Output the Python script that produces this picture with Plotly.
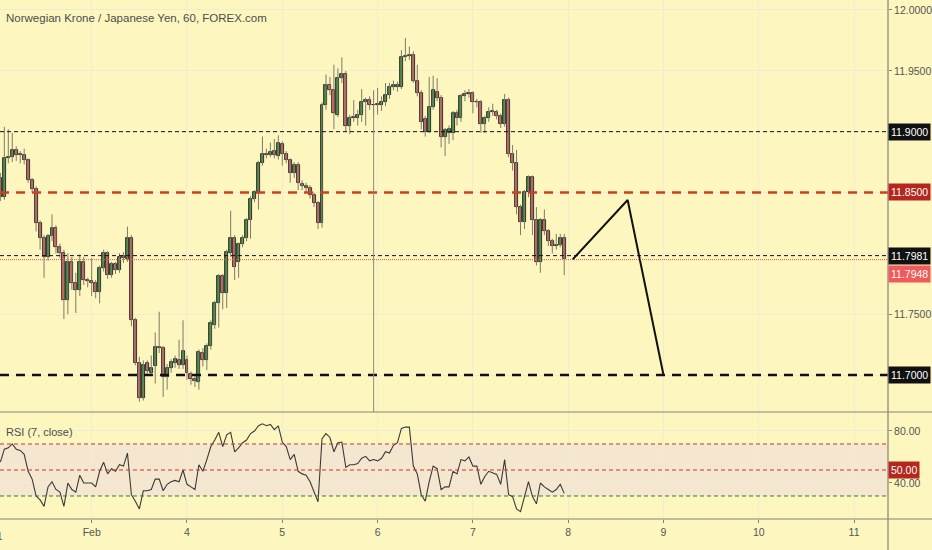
import plotly.graph_objs as go

# Hourly NOKJPY candles (FOREX.com, 60 min)
hours = list(range(1, 144))  # hours since 31 Jan 00:00 (session days, weekend skipped)

opens = [11.862, 11.846, 11.878, 11.879, 11.885, 11.881, 11.881, 11.877, 11.860, 11.853,
         11.825, 11.813, 11.797, 11.814, 11.821, 11.805, 11.800, 11.762, 11.793, 11.776,
         11.770, 11.793, 11.778, 11.777, 11.776, 11.768, 11.788, 11.800, 11.782, 11.791,
         11.786, 11.798, 11.795, 11.813, 11.745, 11.710, 11.681, 11.710, 11.702, 11.707,
         11.723, 11.722, 11.698, 11.706, 11.710, 11.712, 11.708, 11.712, 11.701, 11.697,
         11.694, 11.718, 11.712, 11.724, 11.741, 11.759, 11.781, 11.767, 11.800, 11.813,
         11.793, 11.808, 11.813, 11.827, 11.845, 11.850, 11.874, 11.882, 11.881, 11.884,
         11.880, 11.890, 11.882, 11.877, 11.866, 11.873, 11.857, 11.855, 11.854, 11.848,
         11.841, 11.825, 11.922, 11.938, 11.934, 11.914, 11.944, 11.947, 11.905, 11.912,
         11.911, 11.914, 11.924, 11.926, 11.922, 11.922, 11.922, 11.924, 11.930, 11.937,
         11.937, 11.937, 11.961, 11.962, 11.963, 11.942, 11.932, 11.910, 11.900, 11.920,
         11.933, 11.928, 11.896, 11.899, 11.899, 11.915, 11.911, 11.929, 11.931, 11.932,
         11.924, 11.924, 11.906, 11.911, 11.917, 11.916, 11.913, 11.906, 11.926, 11.882,
         11.874, 11.838, 11.826, 11.850, 11.863, 11.827, 11.793, 11.827, 11.818, 11.810,
         11.806, 11.807, 11.813]
highs = [11.866, 11.904, 11.902, 11.899, 11.888, 11.884, 11.886, 11.878, 11.862, 11.855,
         11.827, 11.815, 11.816, 11.832, 11.823, 11.808, 11.803, 11.800, 11.797, 11.784,
         11.799, 11.797, 11.780, 11.796, 11.778, 11.790, 11.803, 11.802, 11.793, 11.793,
         11.800, 11.801, 11.822, 11.815, 11.747, 11.715, 11.712, 11.712, 11.716, 11.735,
         11.752, 11.724, 11.709, 11.713, 11.716, 11.729, 11.745, 11.716, 11.703, 11.699,
         11.721, 11.722, 11.726, 11.745, 11.761, 11.783, 11.783, 11.803, 11.835, 11.815,
         11.809, 11.815, 11.829, 11.847, 11.852, 11.876, 11.896, 11.886, 11.891, 11.894,
         11.897, 11.892, 11.884, 11.878, 11.875, 11.875, 11.860, 11.858, 11.856, 11.850,
         11.843, 11.924, 11.947, 11.945, 11.955, 11.952, 11.961, 11.950, 11.914, 11.926,
         11.918, 11.935, 11.928, 11.929, 11.934, 11.936, 11.929, 11.940, 11.940, 11.942,
         11.941, 11.967, 11.977, 11.970, 11.966, 11.955, 11.934, 11.913, 11.945, 11.946,
         11.944, 11.930, 11.903, 11.905, 11.917, 11.918, 11.931, 11.934, 11.935, 11.933,
         11.927, 11.926, 11.913, 11.920, 11.923, 11.918, 11.915, 11.931, 11.928, 11.889,
         11.885, 11.840, 11.852, 11.864, 11.864, 11.838, 11.829, 11.836, 11.820, 11.812,
         11.816, 11.816, 11.816]
lows = [11.843, 11.844, 11.874, 11.875, 11.876, 11.874, 11.873, 11.858, 11.850, 11.818,
        11.803, 11.780, 11.794, 11.810, 11.800, 11.796, 11.746, 11.750, 11.770, 11.751,
        11.765, 11.774, 11.772, 11.765, 11.763, 11.759, 11.785, 11.779, 11.780, 11.783,
        11.784, 11.792, 11.793, 11.740, 11.708, 11.678, 11.679, 11.700, 11.700, 11.693,
        11.718, 11.682, 11.688, 11.702, 11.706, 11.705, 11.705, 11.696, 11.692, 11.690,
        11.688, 11.707, 11.704, 11.721, 11.738, 11.739, 11.754, 11.755, 11.797, 11.778,
        11.780, 11.805, 11.810, 11.812, 11.842, 11.836, 11.872, 11.878, 11.879, 11.878,
        11.877, 11.872, 11.874, 11.858, 11.862, 11.852, 11.852, 11.850, 11.845, 11.838,
        11.820, 11.821, 11.918, 11.930, 11.902, 11.912, 11.940, 11.900, 11.898, 11.908,
        11.905, 11.908, 11.905, 11.918, 11.913, 11.914, 11.917, 11.921, 11.927, 11.934,
        11.933, 11.935, 11.958, 11.959, 11.940, 11.929, 11.902, 11.896, 11.899, 11.918,
        11.925, 11.887, 11.880, 11.890, 11.893, 11.905, 11.908, 11.925, 11.928, 11.915,
        11.920, 11.899, 11.899, 11.908, 11.913, 11.910, 11.903, 11.904, 11.879, 11.868,
        11.832, 11.815, 11.820, 11.846, 11.815, 11.790, 11.784, 11.815, 11.806, 11.800,
        11.803, 11.805, 11.782]
closes = [11.846, 11.878, 11.879, 11.885, 11.881, 11.881, 11.877, 11.860, 11.853, 11.825,
          11.813, 11.797, 11.814, 11.821, 11.805, 11.800, 11.762, 11.793, 11.776, 11.770,
          11.793, 11.778, 11.777, 11.776, 11.768, 11.788, 11.800, 11.782, 11.791, 11.786,
          11.797, 11.796, 11.813, 11.745, 11.710, 11.681, 11.708, 11.703, 11.706, 11.723,
          11.722, 11.698, 11.706, 11.711, 11.713, 11.708, 11.720, 11.702, 11.697, 11.695,
          11.719, 11.712, 11.724, 11.743, 11.759, 11.781, 11.767, 11.801, 11.813, 11.789,
          11.808, 11.813, 11.827, 11.845, 11.850, 11.874, 11.882, 11.881, 11.883, 11.881,
          11.891, 11.882, 11.877, 11.866, 11.873, 11.858, 11.855, 11.854, 11.848, 11.841,
          11.825, 11.922, 11.938, 11.934, 11.915, 11.944, 11.947, 11.905, 11.911, 11.911,
          11.914, 11.924, 11.926, 11.922, 11.922, 11.923, 11.924, 11.930, 11.937, 11.938,
          11.938, 11.961, 11.962, 11.963, 11.942, 11.932, 11.908, 11.900, 11.920, 11.934,
          11.928, 11.896, 11.901, 11.902, 11.915, 11.911, 11.929, 11.931, 11.932, 11.924,
          11.924, 11.906, 11.911, 11.916, 11.916, 11.913, 11.906, 11.926, 11.882, 11.874,
          11.838, 11.826, 11.850, 11.863, 11.827, 11.793, 11.827, 11.818, 11.810, 11.806,
          11.807, 11.813, 11.795]

# RSI(7, close) as plotted in the lower pane
rsi = [56, 66, 67, 70, 66, 65, 62, 49, 43, 30,
       27, 22, 37, 41, 35, 33, 22, 40, 35, 33,
       46, 40, 40, 40, 37, 49, 56, 47, 51, 49,
       54, 53, 63, 31, 26, 20, 34, 34, 35, 43,
       43, 34, 39, 41, 42, 41, 50, 39, 37, 35,
       54, 49, 58, 68, 73, 79, 68, 77, 79, 64,
       67, 71, 73, 78, 80, 84, 85.5, 84, 85, 81,
       84, 71.5, 68, 58, 62, 49, 47, 46, 41, 33,
       25.5, 74, 78, 75, 64, 71, 71.5, 52, 54, 54,
       55, 59, 60.5, 57, 58, 57, 59, 64, 63, 69,
       71, 82, 83, 83, 53, 47, 31, 26, 41, 53,
       51, 35, 37, 37, 49, 47, 58, 57, 60, 53,
       53, 39, 45, 49, 48, 46.6, 39, 58, 31, 29.5,
       20, 18, 29.5, 41, 29.5, 24, 40, 37, 35, 33,
       35, 39, 32]

# day ticks (session days); "31" sits on the left edge, mostly cut off
day_pos = [1, 2, 3, 4, 5, 6, 7, 8, 9]
day_labels = ['Feb', '4', '5', '6', '7', '8', '9', '10', '11']
edge_label = '31'

# drawn projection (zigzag) in days / price
proj_days = [6.047, 6.624, 6.998]
proj_price = [11.795, 11.8438, 11.7008]

# vertical marker line
marker_day = 95 / 24
marker_top = 11.913

last_close = 11.7948

bg = '#fdf6be'
grid = '#efecd2'
axis_col = '#85836f'
green = '#3b8f41'
red = '#e0676a'
font_main = 'Liberation Sans, Arial, sans-serif'

x = [h / 24 for h in hours]

# wicks
wick_x, wick_y = [], []
for t, h, l in zip(x, highs, lows):
    wick_x += [t, t, None]
    wick_y += [l, h, None]

up_x, up_base, up_h = [], [], []
dn_x, dn_base, dn_h = [], [], []
for t, o, c in zip(x, opens, closes):
    if c >= o:
        up_x.append(t); up_base.append(o); up_h.append(max(c - o, 0.0003))
    else:
        dn_x.append(t); dn_base.append(c); dn_h.append(max(o - c, 0.0003))

bw = 0.75 / 24

trace_wick = go.Scatter(x=wick_x, y=wick_y, mode='lines',
                        line=dict(color='#7d7b68', width=1),
                        hoverinfo='skip', showlegend=False)
trace_up = go.Bar(x=up_x, y=up_h, base=up_base, width=bw,
                  marker=dict(color=green, line=dict(color='#111', width=0.8)),
                  showlegend=False)
trace_dn = go.Bar(x=dn_x, y=dn_h, base=dn_base, width=bw,
                  marker=dict(color=red, line=dict(color='#111', width=0.8)),
                  showlegend=False)
trace_proj = go.Scatter(x=proj_days, y=proj_price, mode='lines',
                        line=dict(color='#111', width=2), showlegend=False)
trace_rsi = go.Scatter(x=x, y=rsi, mode='lines', xaxis='x2', yaxis='y2',
                       line=dict(color='#3a3a3a', width=1.1), showlegend=False)

data = [trace_wick, trace_up, trace_dn, trace_proj, trace_rsi]

split = (519 - 412) / 519

# horizontal levels on the price pane
levels = [
    (11.90, '#111', 1, '4px,3px'),
    (11.85, '#c9411f', 2.5, '9px,7px'),
    (11.7981, '#111', 1, '4px,3px'),
    (last_close, '#ef5350', 1, '1px,1px'),
    (11.70, '#111', 2.5, '9px,7px'),
]
shapes = []
# RSI band
shapes.append(dict(type='rect', xref='paper', yref='y2', x0=0, x1=1, y0=30, y1=70,
                   fillcolor='rgba(226,193,250,0.3)', line=dict(width=0), layer='below'))
for val, col, w, dash in levels:
    shapes.append(dict(type='line', xref='paper', yref='y', x0=0, x1=1, y0=val, y1=val,
                       line=dict(color=col, width=w, dash=dash)))
for val, col in [(70, '#c0392b'), (50, '#c0392b'), (30, '#2e7d32')]:
    shapes.append(dict(type='line', xref='paper', yref='y2', x0=0, x1=1, y0=val, y1=val,
                       line=dict(color=col, width=1, dash='4px,3px')))
shapes.append(dict(type='line', xref='x', yref='y', x0=marker_day, x1=marker_day,
                   y0=marker_top, y1=11.6696, line=dict(color='#8d8b7c', width=1)))
# pane separators and right scale border
for yy in [split, 0]:
    shapes.append(dict(type='line', xref='paper', yref='paper', x0=0, x1=932 / 888,
                       y0=yy, y1=yy, line=dict(color=axis_col, width=1.2)))
shapes.append(dict(type='line', xref='paper', yref='paper', x0=1, x1=1,
                   y0=-31 / 519, y1=1, line=dict(color=axis_col, width=1.2)))

annotations = [
    dict(text='Norwegian Krone / Japanese Yen, 60, FOREX.com', xref='paper', yref='paper',
         x=0, y=1 - 18 / 519, xanchor='left', yanchor='middle', showarrow=False, xshift=4,
         font=dict(family=font_main, size=11.5, color='#4d4d4d')),
    dict(text='RSI (7, close)', xref='paper', yref='paper',
         x=0, y=(519 - 432) / 519, xanchor='left', yanchor='middle', showarrow=False, xshift=4,
         font=dict(family=font_main, size=11, color='#4d4d4d')),
    dict(text=edge_label, xref='paper', yref='paper', x=0, y=-17 / 519, xshift=-3,
         xanchor='center', yanchor='middle', showarrow=False,
         font=dict(family=font_main, size=10.5, color='#555')),
]
# (value, text, colour, axis, vertical shift in px)
boxes = [(11.90, '11.9000', '#111111', 'y', 0), (11.85, '11.8500', '#b5261e', 'y', 0),
         (11.7981, '11.7981', '#111111', 'y', 0), (last_close, '11.7948', '#ef5a5a', 'y', -14),
         (11.70, '11.7000', '#111111', 'y', 0), (50, '50.00', '#b5261e', 'y2', 0)]
for val, txt, col, yr, ys in boxes:
    annotations.append(dict(text=txt, xref='paper', yref=yr, x=1, y=val, yshift=ys,
                            xanchor='left', yanchor='middle', showarrow=False,
                            bgcolor=col, borderpad=2, xshift=0,
                            font=dict(family=font_main, size=10.5, color='white')))

tickfont = dict(family=font_main, size=10.5, color='#555')

layout = go.Layout(
    width=932, height=550,
    margin=dict(l=0, r=44, t=0, b=31),
    paper_bgcolor=bg, plot_bgcolor=bg,
    barmode='overlay', bargap=0,
    xaxis=dict(range=[0.0378, 9.356], anchor='y', tickvals=day_pos, showticklabels=False,
               gridcolor=grid, zeroline=False, showline=False),
    xaxis2=dict(range=[0.0378, 9.356], anchor='y2', matches='x', tickvals=day_pos,
                ticktext=day_labels, gridcolor=grid, zeroline=False, showline=False,
                ticks='outside', ticklen=3, tickcolor=axis_col, tickfont=tickfont),
    yaxis=dict(domain=[split, 1], range=[11.6696, 12.0082], side='right', anchor='x',
               tickvals=[11.70, 11.75, 11.80, 11.85, 11.90, 11.95, 12.00],
               ticktext=['', '11.7500', '', '', '', '11.9500', '12.0000'],
               gridcolor=grid, zeroline=False, ticks='outside', ticklen=3,
               tickcolor=axis_col, tickfont=tickfont),
    yaxis2=dict(domain=[0, split], range=[12.3, 94.6], side='right', anchor='x2',
                tickvals=[40, 80], ticktext=['40.00', '80.00'],
                gridcolor=grid, zeroline=False, ticks='outside', ticklen=3,
                tickcolor=axis_col, tickfont=tickfont),
    shapes=shapes, annotations=annotations,
)

fig = go.Figure(data=data, layout=layout)
fig.write_html("out.html", config={'displayModeBar': False},
               post_script="document.body.style.margin='0';")
